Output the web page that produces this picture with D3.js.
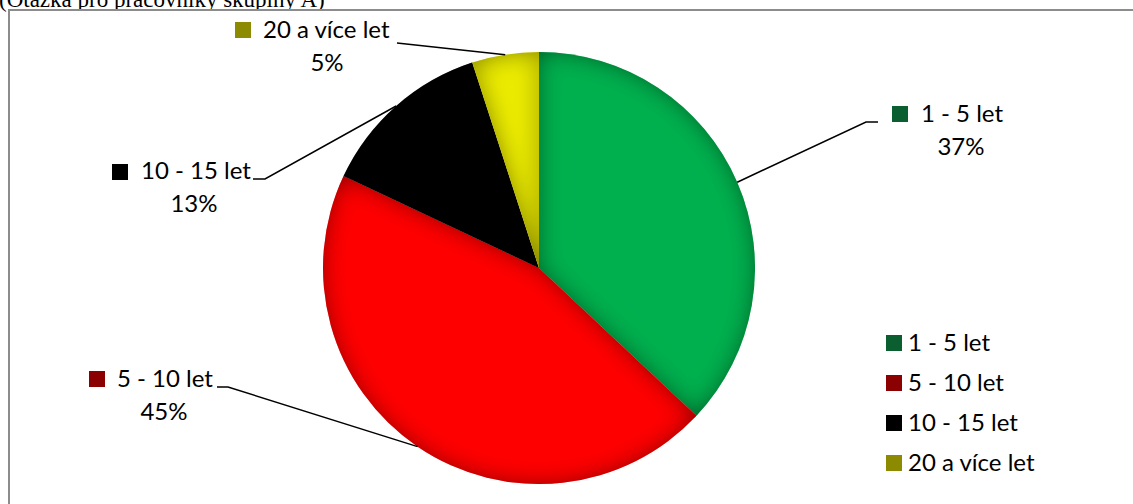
<!DOCTYPE html>
<html>
<head>
<meta charset="utf-8">
<script src="https://cdn.jsdelivr.net/npm/d3@7/dist/d3.min.js"></script>
<style>
  html, body { margin: 0; padding: 0; background: #fff; }
  svg { display: block; }
</style>
</head>
<body>
<svg id="chart" width="1133" height="504"></svg>
<script>
// ---- data ----
const categories = ["1 - 5 let", "5 - 10 let", "10 - 15 let", "20 a více let"];
const values = [37, 45, 13, 5];
const percentLabels = ["37%", "45%", "13%", "5%"];
const sliceColors = ["#00B050", "#FF0000", "#000000", "#EBEB00"];
const legendColors = ["#0B5E2F", "#8B0000", "#000000", "#8C8A00"];
const titleText = "(Otázka pro pracovníky skupiny A)";

// ---- layout ----
const W = 1133, H = 504;
const cx = 539, cy = 268, R = 216;
const fontFamily = "Lato, 'Open Sans', sans-serif";
const fontSize = 24;
const labelLayout = [
  { mx: 892, my: 106, tx: 921, ty: 122, px: 961, py: 155, elbow: [866, 122], end: [878, 122] },
  { mx: 89,  my: 371, tx: 117, ty: 387, px: 164, py: 420, elbow: [228, 387], end: [217, 387] },
  { mx: 112, my: 164, tx: 141, ty: 179, px: 194, py: 212, elbow: [265, 179], end: [253, 179] },
  { mx: 235, my: 22,  tx: 263, ty: 38,  px: 327, py: 71,  elbow: [397, 43],  end: [397, 43] }
];
const legendX = 886, legendY0 = 335, legendStep = 40, legendMarker = 16;

const svg = d3.select("#chart");

// title (clipped at top like reference)
svg.append("text")
  .attr("x", -1).attr("y", 7)
  .attr("font-family", "'Liberation Serif', 'Times New Roman', serif")
  .attr("font-size", 23)
  .attr("fill", "#000")
  .text(titleText);

// chart border
svg.append("rect")
  .attr("x", 9).attr("y", 10)
  .attr("width", W + 20).attr("height", H + 20)
  .attr("fill", "#fff")
  .attr("stroke", "#8c8c8c").attr("stroke-width", 2);

// inner shadow filter
const defs = svg.append("defs");
const f = defs.append("filter").attr("id", "innerShade")
  .attr("x", "-20%").attr("y", "-20%").attr("width", "140%").attr("height", "140%");
f.append("feFlood").attr("flood-color", "#000").attr("flood-opacity", 0.8).attr("result", "flood");
f.append("feComposite").attr("in", "flood").attr("in2", "SourceAlpha").attr("operator", "out").attr("result", "outside");
f.append("feGaussianBlur").attr("in", "outside").attr("stdDeviation", 12).attr("result", "blur");
f.append("feComposite").attr("in", "blur").attr("in2", "SourceAlpha").attr("operator", "in").attr("result", "shadow");
const merge = f.append("feMerge");
merge.append("feMergeNode").attr("in", "SourceGraphic");
merge.append("feMergeNode").attr("in", "shadow");

const color = d3.scaleOrdinal().domain(categories).range(sliceColors);
const legendColor = d3.scaleOrdinal().domain(categories).range(legendColors);

const pie = d3.pie().value(d => d.value).sort(null).startAngle(0).endAngle(2 * Math.PI);
const data = categories.map((c, i) => ({ cat: c, value: values[i], pct: percentLabels[i], i }));
const arcs = pie(data);
const arc = d3.arc().innerRadius(0).outerRadius(R);
const edgeArc = d3.arc().innerRadius(R).outerRadius(R);

const g = svg.append("g").attr("transform", `translate(${cx},${cy})`);
g.selectAll("path.slice").data(arcs).join("path")
  .attr("class", "slice")
  .attr("d", arc)
  .attr("fill", d => color(d.data.cat))
  .attr("filter", "url(#innerShade)");

// leader lines
svg.selectAll("polyline.leader").data(arcs).join("polyline")
  .attr("class", "leader")
  .attr("fill", "none")
  .attr("stroke", "#000")
  .attr("stroke-width", 1.5)
  .attr("points", d => {
    const L = labelLayout[d.data.i];
    const c = edgeArc.centroid(d);
    const p0 = [cx + c[0], cy + c[1]];
    return [p0, L.elbow, L.end].map(p => p.join(",")).join(" ");
  });

// data labels
const lbl = svg.selectAll("g.dlabel").data(arcs).join("g").attr("class", "dlabel");
lbl.append("rect")
  .attr("x", d => labelLayout[d.data.i].mx)
  .attr("y", d => labelLayout[d.data.i].my)
  .attr("width", 16).attr("height", 16)
  .attr("fill", d => legendColor(d.data.cat));
lbl.append("text")
  .attr("x", d => labelLayout[d.data.i].tx)
  .attr("y", d => labelLayout[d.data.i].ty)
  .attr("font-family", fontFamily).attr("font-size", fontSize)
  .attr("fill", "#000")
  .text(d => d.data.cat);
lbl.append("text")
  .attr("x", d => labelLayout[d.data.i].px)
  .attr("y", d => labelLayout[d.data.i].py)
  .attr("text-anchor", "middle")
  .attr("font-family", fontFamily).attr("font-size", fontSize)
  .attr("fill", "#000")
  .text(d => d.data.pct);

// legend
const legendY = d3.scalePoint().domain(categories).range([legendY0, legendY0 + legendStep * (categories.length - 1)]);
const leg = svg.selectAll("g.legend").data(categories).join("g").attr("class", "legend")
  .attr("transform", d => `translate(${legendX},${legendY(d)})`);
leg.append("rect").attr("width", legendMarker).attr("height", legendMarker)
  .attr("fill", d => legendColor(d));
leg.append("text").attr("x", 22).attr("y", 16)
  .attr("font-family", fontFamily).attr("font-size", fontSize)
  .attr("fill", "#000")
  .text(d => d);
</script>
</body>
</html>
